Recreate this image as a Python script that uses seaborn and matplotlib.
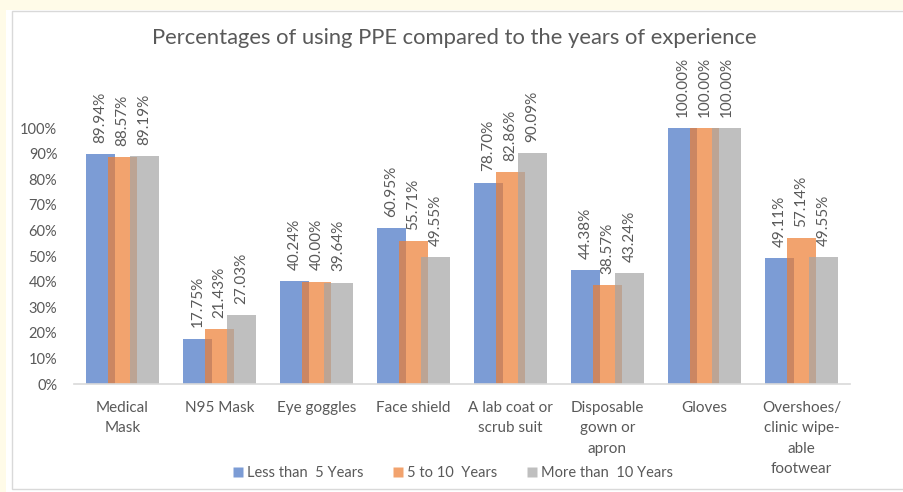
import numpy as np
import pandas as pd
import matplotlib
matplotlib.use("Agg")
import matplotlib.pyplot as plt
import matplotlib.patches as mpatches
from matplotlib.lines import Line2D
import seaborn as sns

# Data
categories = ["Medical\nMask", "N95 Mask", "Eye goggles", "Face shield",
              "A lab coat or\nscrub suit", "Disposable\ngown or\napron", "Gloves",
              "Overshoes/\nclinic wipe-\nable\nfootwear"]
groups = ["Less than  5 Years", "5 to 10  Years", "More than  10 Years"]
less_5 = [89.94, 17.75, 40.24, 60.95, 78.70, 44.38, 100.00, 49.11]
from_5_10 = [88.57, 21.43, 40.00, 55.71, 82.86, 38.57, 100.00, 57.14]
more_10 = [89.19, 27.03, 39.64, 49.55, 90.09, 43.24, 100.00, 49.55]
colors = ["#4472C4", "#ED7D31", "#A5A5A5"]

df = pd.DataFrame({
    "Item": categories * 3,
    "Group": [g for g in groups for _ in categories],
    "Value": less_5 + from_5_10 + more_10,
})

sns.set_style("white")
plt.rcParams["font.family"] = ["Lato", "DejaVu Sans"]
text_col = "#595959"

fig = plt.figure(figsize=(9.04, 4.92), dpi=100)
W, H = 904, 492

# cream page strips + chart frame (kept behind the axes)
fig.patches.append(mpatches.Rectangle((0, 0), 6 / W, 1, transform=fig.transFigure,
                                      facecolor="#FFFBE8", edgecolor="none", zorder=-10))
fig.patches.append(mpatches.Rectangle((0, 1 - 10 / H), 1, 10 / H, transform=fig.transFigure,
                                      facecolor="#FFFBE8", edgecolor="none", zorder=-10))
fig.patches.append(mpatches.Rectangle((12 / W, 1 - 489 / H), 1, (489 - 11) / H,
                                      transform=fig.transFigure, facecolor="white",
                                      edgecolor="#D9D9D9", linewidth=1, zorder=-10))

ax = fig.add_axes([74 / W, 1 - 384 / H, (850 - 74) / W, (384 - 128) / H])
ax.set_facecolor("none")
ax.set_zorder(5)

sns.barplot(data=df, x="Item", y="Value", hue="Group", palette=colors,
            width=0.68, alpha=0.7, saturation=1, ax=ax, legend=False)

# widen bars so neighbours overlap, like the original
bw = 0.30
for p in ax.patches:
    c = p.get_x() + p.get_width() / 2
    p.set_x(c - bw / 2)
    p.set_width(bw)
    p.set_linewidth(0)

for p in ax.patches:
    h = p.get_height()
    ax.annotate(f"{h:.2f}%", (p.get_x() + p.get_width() / 2, h),
                xytext=(0, 8), textcoords="offset points", rotation=90,
                ha="center", va="bottom", fontsize=11, color=text_col,
                annotation_clip=False)

ax.set_xlim(-0.5, len(categories) - 0.5)
ax.set_ylim(0, 100)
ax.set_yticks(np.arange(0, 101, 10))
ax.set_yticklabels([f"{v}%" for v in range(0, 101, 10)])
ax.tick_params(axis="y", length=0, pad=12, labelsize=10.5, labelcolor=text_col)
ax.tick_params(axis="x", length=0, pad=12, labelsize=11, labelcolor=text_col)
for lbl in ax.get_xticklabels():
    lbl.set_linespacing(1.6)
    lbl.set_va("top")
ax.set_xlabel("")
ax.set_ylabel("")
for s in ["top", "right", "left"]:
    ax.spines[s].set_visible(False)
ax.spines["bottom"].set_color("#D9D9D9")
ax.spines["bottom"].set_linewidth(1.2)

fig.text(454 / W, 1 - 38 / H, "Percentages of using PPE compared to the years of experience",
         ha="center", va="center", fontsize=15.8, color=text_col)

handles = [Line2D([0], [0], marker="s", linestyle="none", markersize=7,
                  markerfacecolor=c, markeredgecolor="none", alpha=0.7) for c in colors]
fig.legend(handles, groups, loc="center", bbox_to_anchor=(453 / W, 1 - 473 / H), ncol=3,
           frameon=False, fontsize=10.5, labelcolor=text_col, handlelength=0.7,
           handletextpad=0.3, columnspacing=2.0)

fig.savefig("out.png", dpi=100)
